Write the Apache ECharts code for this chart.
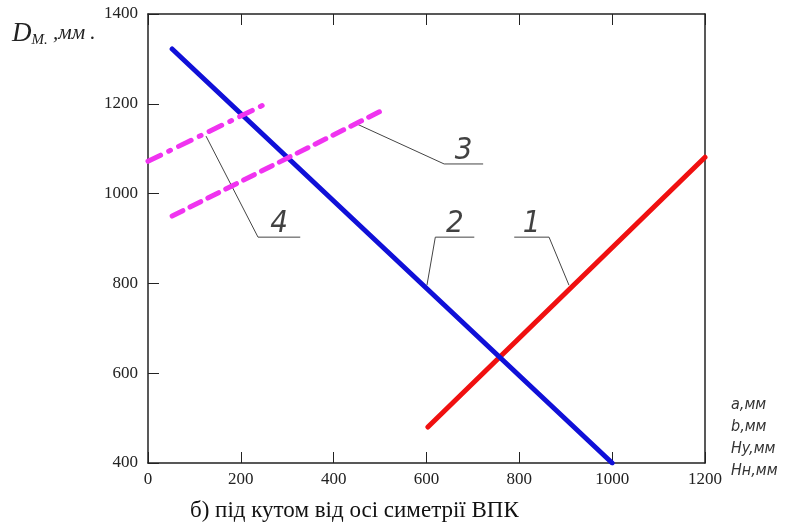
<!DOCTYPE html>
<html>
<head>
    <meta charset="utf-8" />
    <title>ECharts</title>
    <script src="https://cdn.jsdelivr.net/npm/echarts@6/dist/echarts.min.js"></script>
</head>
<body style="margin:0;background:#fff;">
<div id="main" style="width: 789px;height:528px;"></div>

<script type="text/javascript">
    // дані кривих (x, D_M)
    var curve1 = [[603, 480], [1200, 1081]];
    var curve2 = [[52, 1322], [1000, 400]];
    var curve3 = [[52, 950], [500, 1183]];
    var curve4 = [[0, 1072], [250, 1198]];

    var xTicks = [0, 200, 400, 600, 800, 1000, 1200];
    var yTicks = [400, 600, 800, 1000, 1200, 1400];

    // виноски: точка на кривій -> злам -> кінець полиці
    var leaders = [
        { name: '1', pts: [[907, 796], [864, 903], [789, 903]] },
        { name: '2', pts: [[601, 796], [619, 903], [703, 903]] },
        { name: '3', pts: [[450, 1155], [638, 1066], [722, 1066]] },
        { name: '4', pts: [[125, 1128], [237, 903], [328, 903]] }
    ];

    var myChart = echarts.init(document.getElementById('main'));

    var serif = 'Liberation Serif';
    var axisCol = '#222';
    var magenta = '#f033f0';

    var series = [
        { type: 'line', data: curve1, symbol: 'none', lineStyle: { color: '#f01010', width: 5, cap: 'round' } },
        { type: 'line', data: curve2, symbol: 'none', lineStyle: { color: '#1010d8', width: 5, cap: 'round' } },
        { type: 'line', data: curve3, symbol: 'none', lineStyle: { color: magenta, width: 5, type: [12, 8], cap: 'round' } },
        { type: 'line', data: curve4, symbol: 'none', lineStyle: { color: magenta, width: 5, type: [14, 9, 2, 9], cap: 'round' } }
    ];

    var labelPts = [];
    leaders.forEach(function (l) {
        series.push({
            type: 'line', silent: true, symbol: 'none', z: 1,
            lineStyle: { color: '#444', width: 1 },
            data: l.pts
        });
        var k = l.pts[1], e = l.pts[2];
        labelPts.push({ name: l.name, value: [(k[0] + e[0]) / 2, k[1]] });
    });

    series.push({
        type: 'scatter', silent: true, symbolSize: 0, data: labelPts,
        label: {
            show: true, position: 'top', distance: -2, formatter: '{b}',
            fontFamily: 'DejaVu Sans Condensed', fontStyle: 'italic', fontWeight: 'lighter',
            fontSize: 31, color: '#111'
        }
    });

    function plain(v) { return String(v); }

    var option = {
        animation: false,
        grid: { left: 148, right: 84, top: 14, bottom: 65 },
        xAxis: [{
            type: 'value', min: 0, max: 1200, interval: 200,
            axisLine: { onZero: false, lineStyle: { color: axisCol, width: 1.5 } },
            axisTick: { inside: true, length: 11, lineStyle: { color: axisCol } },
            splitLine: { show: false },
            axisLabel: { color: '#222', fontFamily: serif, fontSize: 17, margin: 8, formatter: plain }
        }, {
            type: 'value', position: 'top', min: 0, max: 1200, interval: 200,
            axisLine: { show: true, onZero: false, lineStyle: { color: axisCol, width: 1.5 } },
            axisTick: { inside: true, length: 11, lineStyle: { color: axisCol } },
            splitLine: { show: false }, axisLabel: { show: false }
        }],
        yAxis: [{
            type: 'value', min: 400, max: 1400, interval: 200,
            axisLine: { show: true, onZero: false, lineStyle: { color: axisCol, width: 1.5 } },
            axisTick: { show: true, inside: true, length: 11, lineStyle: { color: axisCol } },
            splitLine: { show: false },
            axisLabel: { color: '#222', fontFamily: serif, fontSize: 17, margin: 10, formatter: plain }
        }, {
            type: 'value', position: 'right', min: 400, max: 1400, interval: 200,
            axisLine: { show: true, onZero: false, lineStyle: { color: axisCol, width: 1.5 } },
            axisTick: { show: false },
            splitLine: { show: false }, axisLabel: { show: false }
        }],
        series: series,
        graphic: [
            {
                type: 'text', left: 12, top: 20,
                style: {
                    text: '{d|D}{s|M.}{t| ,мм .}',
                    rich: {
                        d: { fontFamily: serif, fontStyle: 'italic', fontSize: 27, fill: '#222' },
                        s: { fontFamily: serif, fontStyle: 'italic', fontSize: 15, fill: '#222', verticalAlign: 'bottom', padding: [14, 0, 0, 0] },
                        t: { fontFamily: serif, fontStyle: 'italic', fontSize: 21, fill: '#222' }
                    }
                }
            },
            {
                type: 'text', left: 731, top: 394,
                style: {
                    text: 'a,мм\nb,мм\nHy,мм\nHн,мм',
                    font: 'italic lighter 16px "DejaVu Sans Condensed"', fill: '#333', lineHeight: 22
                }
            },
            {
                type: 'text', left: 190, top: 499,
                style: {
                    text: 'б) під кутом від осі симетрії ВПК',
                    font: '23px "Liberation Serif"', fill: '#111'
                }
            }
        ]
    };

    myChart.setOption(option);
</script>
</body>
</html>
